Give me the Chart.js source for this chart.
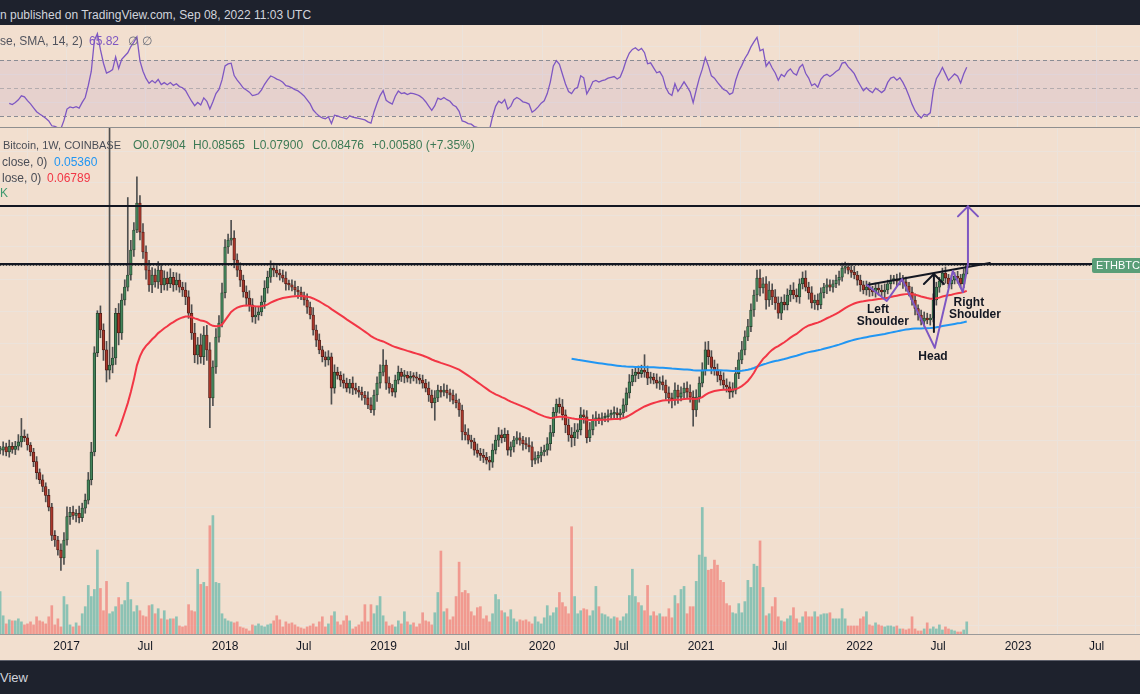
<!DOCTYPE html>
<html>
<head>
<meta charset="utf-8">
<script src="https://cdn.jsdelivr.net/npm/chart.js@4.4.1/dist/chart.umd.min.js"></script>
<style>
body{margin:0;width:1140px;height:694px;overflow:hidden;position:relative;background:#f2dfcf;font-family:"Liberation Sans",Arial,sans-serif;font-size:12px}
.t{position:absolute;white-space:nowrap;line-height:14px}
canvas{position:absolute;left:0}
</style>
</head>
<body>
<div style="position:absolute;left:0;top:0;width:1140px;height:25px;background:#1e222d"></div>
<div class="t" style="left:0;top:8px;color:#d1d4dc">n published on TradingView.com, Sep 08, 2022 11:03 UTC</div>
<canvas id="rsi" width="1140" height="103" style="top:25px"></canvas>
<canvas id="main" width="1140" height="532" style="top:128px"></canvas>
<div style="position:absolute;left:0;top:127px;width:1140px;height:1px;background:#8f8f8f"></div>
<div style="position:absolute;left:0;top:660px;width:1140px;height:34px;background:#1e222d;border-top:1px solid #5d606b;box-sizing:border-box"></div>
<div class="t" style="left:0;top:671px;color:#d1d4dc;font-size:13px">View</div>

<div class="t" style="left:0;top:34px;color:#50535e">se, SMA, 14, 2)</div>
<div class="t" style="left:89px;top:34px;color:#7e57c2">65.82</div>
<div class="t" style="left:128px;top:34px;color:#6a6d78">&#8709;</div>
<div class="t" style="left:142px;top:34px;color:#6a6d78">&#8709;</div>

<div class="t" style="left:3px;top:138px;color:#4a4d56;font-size:11px">Bitcoin, 1W, COINBASE</div>
<div class="t" style="left:133px;top:138px;color:#3d7a55">O0.07904</div>
<div class="t" style="left:193px;top:138px;color:#3d7a55">H0.08565</div>
<div class="t" style="left:253px;top:138px;color:#3d7a55">L0.07900</div>
<div class="t" style="left:312px;top:138px;color:#3d7a55">C0.08476</div>
<div class="t" style="left:372px;top:138px;color:#3d7a55">+0.00580 (+7.35%)</div>
<div class="t" style="left:2px;top:155px;color:#4a4d56">close, 0)</div>
<div class="t" style="left:54px;top:155px;color:#2196f3">0.05360</div>
<div class="t" style="left:2px;top:171px;color:#4a4d56">lose, 0)</div>
<div class="t" style="left:47px;top:171px;color:#f23645">0.06789</div>
<div class="t" style="left:0;top:186px;color:#3f9a70">K</div>

<script>
// weekly ETH/BTC, Coinbase, first week 2016-05-16
const firstWeek = '2016-05-16';
const closes = [
0.0255,0.0232,0.0255,0.0250,0.0262,0.0218,0.0196,0.0168,0.0185,0.0215,0.0195,
0.0195,0.0200,0.0192,0.0201,0.0196,0.0201,0.0208,0.0218,0.0215,0.0203,
0.0192,0.0178,0.0163,0.0154,0.0146,0.0136,0.0124,0.0099,0.00955,0.00882,
0.00828,0.00955,0.0115,0.0119,0.0116,0.0118,0.0114,0.0123,0.0131,0.0154,
0.0192,0.0422,0.0578,0.0506,0.0432,0.0368,0.0383,0.0405,0.0578,0.0494,
0.0642,0.0711,0.0783,0.0955,0.1119,0.1387,0.1101,0.0940,0.0814,0.0724,
0.0783,0.0741,0.0814,0.0724,0.0764,0.0730,0.0769,0.0724,0.0752,0.0711,
0.0695,0.0658,0.0578,0.0494,0.0415,0.0450,0.0409,0.0486,0.0432,0.0295,
0.0377,0.0478,0.0535,0.0680,0.0978,0.1033,0.1050,0.0882,0.0814,0.0752,
0.0684,0.0652,0.0618,0.0561,0.0570,0.0584,0.0632,0.0706,0.0769,0.0827,
0.0814,0.0795,0.0783,0.0764,0.0730,0.0724,0.0711,0.0695,0.0684,0.0664,
0.0642,0.0607,0.0570,0.0506,0.0467,0.0432,0.0409,0.0399,0.0409,0.0319,
0.0362,0.0353,0.0340,0.0332,0.0319,0.0332,0.0319,0.0314,0.0309,0.0302,
0.0295,0.0279,0.0268,0.0302,0.0332,0.0362,0.0383,0.0332,0.0319,0.0309,
0.0340,0.0362,0.0350,0.0353,0.0345,0.0350,0.0348,0.0345,0.0340,0.0332,
0.0319,0.0302,0.0284,0.0295,0.0314,0.0309,0.0314,0.0307,0.0302,0.0290,
0.0284,0.0268,0.0225,0.0220,0.0211,0.0208,0.0195,0.0190,0.0187,0.0184,
0.0180,0.0177,0.0195,0.0211,0.0220,0.0215,0.0221,0.0195,0.0200,0.0211,
0.0215,0.0211,0.0205,0.0203,0.0200,0.0180,0.0183,0.0187,0.0192,0.0195,
0.0205,0.0224,0.0263,0.0281,0.0275,0.0258,0.0238,0.0220,0.0215,0.0225,
0.0229,0.0258,0.0254,0.0215,0.0229,0.0248,0.0252,0.0248,0.0252,0.0254,
0.0258,0.0260,0.0262,0.0258,0.0262,0.0279,0.0307,0.0335,0.0353,0.0362,
0.0358,0.0368,0.0362,0.0345,0.0348,0.0340,0.0332,0.0335,0.0327,0.0307,
0.0295,0.0290,0.0314,0.0297,0.0307,0.0319,0.0309,0.0297,0.0268,0.0297,
0.0332,0.0368,0.0432,0.0409,0.0376,0.0368,0.0353,0.0340,0.0327,0.0322,
0.0309,0.0314,0.0358,0.0399,0.0432,0.0479,0.0520,0.0593,0.0668,0.0764,
0.0706,0.0730,0.0642,0.0695,0.0658,0.0627,0.0578,0.0632,0.0618,0.0668,
0.0695,0.0668,0.0658,0.0730,0.0764,0.0711,0.0680,0.0627,0.0642,0.0618,
0.0680,0.0711,0.0724,0.0711,0.0730,0.0752,0.0769,0.0827,0.0835,0.0814,
0.0800,0.0783,0.0752,0.0724,0.0695,0.0711,0.0695,0.0684,0.0706,0.0695,
0.0684,0.0695,0.0730,0.0752,0.0758,0.0746,0.0758,0.0741,0.0717,0.0684,
0.0642,0.0600,0.0570,0.0543,0.0556,0.0548,0.0556,0.0642,0.0711,0.0746,
0.0795,0.0764,0.0730,0.0752,0.0775,0.0764,0.0730,0.07904,0.08476
];
// upper / lower wick length, % of the body edge
const wickUp = [
4,5,3,6,8,5,4,6,5,7, 4,3,4,3,5,3,4,6,15,5, 3,2,3,4,3,4,3,5,3,4, 3,5,6,8,4,5,3,6,4,5,
6,8,5,2,6,5,7,1200,9,4, 8,5,6,85,8,6,23,6,7,5, 8,6,5,7,4,6,5,7,4,6, 5,4,6,5,7,8,6,9,7,8,
6,5,7,6,8,6,5,15,6,5, 6,4,5,6,5,7,4,5,6,5, 6,4,5,3,4,5,3,4,5,3, 4,3,5,4,6,4,5,3,4,5,
3,6,4,3,5,4,3,5,4,3, 4,3,5,6,4,5,6,13,4,5, 3,4,5,3,4,3,4,3,4,3, 4,3,5,4,6,4,3,5,4,3,
4,5,3,4,6,5,4,3,5,4, 5,4,3,5,4,6,4,5,3,4, 3,5,4,3,5,6,4,5,3,4, 4,5,6,4,4,5,6,4,5,6,
7,5,6,4,5,6,4,5,3,4, 3,4,3,5,4,3,5,4,6,5, 4,5,4,13,5,4,3,5,4,5, 4,5,4,6,4,5,4,5,6,5,
6,5,6,6.5,7,5,6,5,4,6, 5,4,6,5,6,7,5,6,5,4, 6.5,7,5,6,7,5,6,5,4,6, 5,4,6,5,4,5,6,4,5,4,
5,4,3,5,4,3,4,5,4,4, 3,4,5,3,4,3,5,4,3,4, 3,4,5,3,4,3,4,5,3,4, 3,4,5,3,4,5,4,3,5,4,
3,4,5,3,4,3,4,3,4,1.05
];
const wickDn = [
5,6,4,5,4,8,5,6,4,5, 5,3,4,3,4,3,4,3,4,3, 4,3,4,5,3,4,5,3,4,5, 4,9.5,5,4,6,3,5,4,3,4,
3,4,3,3,6,8,9,7,6,5, 9,5,4,3,4,5,2,6,5,7, 5,6,4,5,6,4,5,3,5,4, 4,5,6,4,5,6,7,5,6,8,
21,6,5,4,3,4,5,4,6,5, 5,4,6,5,4,5,4,3,5,4, 4,5,3,4,3,5,4,3,4,5, 3,4,5,3,4,5,3,4,5,4,
12,4,3,5,4,3,4,5,3,4, 4,5,3,2,4,5,4,3,5,4, 3,4,3,4,5,3,4,3,4,3, 4,3,5,4,13,3,4,3,4,5,
3,4,5,6,4,3,5,4,3,4, 4,3,6,4,3,5,4,3,4,5, 4,3,4,5,3,4,5,3,4,5, 3,4,5,3,4,5,4,6,5,7,
6,5,4,5,4,3,4,5,3,4, 3,4,3,4,3,4,3,5,4,3, 5,4,3,4,5,4,3,4,5,4, 5,4,6,4,5,3,4,5,4,12,
5,4,3,4,6,5,4,5,4,3, 4,5,4,3,4,3,4,3,4,5, 5,6,4,7,5,6,5,4,5,4, 4,5,3,4,5,4,3,5,4,5,
4,3,4,5,3,4,3,4,3,4, 3,4,3,4,5,3,4,5,3,4, 4,3,5,3,4,3,4,3,5,4, 3,4,5,4,3,4,3,4,3,4,
4,3,4,3,4,3,4,3,3,0.05
];
// weekly volume, K ETH
const volumes = [
80,60,48,72,120,140,80,60,48,60,40,
168,72,40,56,52,52,60,48,36,40, 48,36,68,52,48,40,68,112,36,60,
28,148,116,36,28,44,32,80,108,192, 148,176,332,180,92,208,80,88,108,144,
116,132,204,136,88,112,92,72,68,112, 116,80,100,60,92,56,60,60,68,32,
28,32,116,92,88,256,196,204,188,428, 468,204,200,80,60,52,48,44,48,28,
24,20,12,36,32,40,32,28,36,40, 52,72,56,28,48,40,44,36,28,24,
20,28,32,40,28,48,68,28,40,72, 88,48,36,52,72,52,20,28,36,48,
116,48,116,80,112,148,72,48,32,36, 28,52,40,88,48,36,44,28,40,84,
52,48,36,84,164,328,88,100,56,68, 148,284,164,172,160,88,72,104,108,60,
72,48,80,156,136,92,84,68,96,60, 48,56,52,56,48,40,68,48,40,64,
112,72,84,104,164,124,108,80,424,148, 80,92,100,96,72,92,188,108,80,76,
68,60,68,64,52,68,80,152,256,148, 124,112,92,192,72,88,72,80,68,68,
100,64,152,120,176,188,80,108,108,208, 312,500,304,252,256,292,272,212,204,120,
112,84,80,120,84,128,212,184,276,268, 368,184,72,80,108,144,68,52,48,60,
72,104,60,44,68,88,68,68,88,68, 76,80,80,84,60,60,60,100,60,32,
32,32,32,60,68,88,36,32,44,36, 32,28,32,32,28,32,20,20,16,20,
68,20,12,12,20,44,20,28,20,36, 16,28,20,16,12,8,8,16,48
];
const tickDates = ['2017-01-01','2017-07-01','2018-01-01','2018-07-01','2019-01-01','2019-07-01','2020-01-01',
  '2020-07-01','2021-01-01','2021-07-01','2022-01-01','2022-07-01','2023-01-01','2023-07-01'];
const tickLabels = ['2017','Jul','2018','Jul','2019','Jul','2020','Jul','2021','Jul','2022','Jul','2023','Jul'];
const gridPrices = [0.00486,0.00612,0.0077,0.0097,0.0124,0.0163,0.0211,0.0275,0.0354,0.0456,0.0588,0.0758,0.0978,0.126,0.1626,0.2096];
const rsiGrid = [40,60,80];
const levels = [0.1354, 0.0854];
const lastPrice = 0.08476;
// drawings, [week index, price]
const neckline = [[296.2,0.0723],[336.6,0.0861]];
const headArrow = [[318.2,0.0498],[318.2,0.0789]];
const hsPath = [[296.2,0.0723],[302.7,0.0637],[307.7,0.0758],[318.5,0.0439],[324.4,0.0808],[327.7,0.0684],[329.4,0.0854],[329.4,0.1350]];
const hsLabels = [['Left',299.8,0.0593],['Shoulder',301.4,0.0539],['Head',317.9,0.0409],['Right',329.7,0.0627],['Shoulder',331.7,0.0570]];

const FONT = '"Liberation Sans", Arial, sans-serif';
const GRID = '#ece3db';
const X_MIN = 10.96, X_MAX = 386;
const Y_MIN = 0.004526, Y_MAX = 0.2516;

const DAY = 86400000;
const w0 = Date.parse(firstWeek);
const tickIdx = tickDates.map(d => (Date.parse(d) - w0) / (7 * DAY));

const opens = closes.map((c, i) => i ? closes[i - 1] : c);
const highs = closes.map((c, i) => Math.max(c, opens[i]) * (1 + wickUp[i] / 100));
const lows = closes.map((c, i) => Math.min(c, opens[i]) * (1 - wickDn[i] / 100));

function ema(src, len) {
  const out = src.map(() => null);
  const a = 2 / (len + 1);
  let s = 0;
  for (let i = 0; i < len; i++) s += src[i];
  out[len - 1] = s / len;
  for (let i = len; i < src.length; i++) out[i] = a * src[i] + (1 - a) * out[i - 1];
  return out;
}
function rsi(src, len) {
  const out = src.map(() => null);
  let ag = 0, al = 0;
  for (let i = 1; i <= len; i++) { const d = src[i] - src[i - 1]; ag += Math.max(d, 0); al += Math.max(-d, 0); }
  ag /= len; al /= len;
  out[len] = 100 - 100 / (1 + ag / al);
  for (let i = len + 1; i < src.length; i++) {
    const d = src[i] - src[i - 1];
    ag = (ag * (len - 1) + Math.max(d, 0)) / len;
    al = (al * (len - 1) + Math.max(-d, 0)) / len;
    out[i] = al === 0 ? 100 : 100 - 100 / (1 + ag / al);
  }
  return out;
}
const pts = arr => arr.map((v, i) => ({x: i, y: v})).filter(p => p.y !== null);

const ema50 = ema(closes, 50);
const ema200 = ema(closes, 200);
const rsi14 = rsi(closes, 14);

const up = closes.map((c, i) => c >= opens[i]);
const bodies = closes.map((c, i) => ({x: i, y: [Math.min(c, opens[i]), Math.max(c, opens[i])]}));
const wicks = closes.map((c, i) => ({x: i, y: [lows[i], highs[i]]}));
const vols = volumes.map((v, i) => ({x: i, y: v}));

function xTicks(axis) { axis.ticks = tickIdx.map(v => ({value: v})); }

const drawings = {
  id: 'drawings',
  afterDatasetsDraw(chart) {
    const {ctx, chartArea: ca, scales: {x, y}} = chart;
    const P = p => [x.getPixelForValue(p[0]), y.getPixelForValue(p[1])];
    const seg = (pa, pb) => { ctx.beginPath(); ctx.moveTo(pa[0], pa[1]); ctx.lineTo(pb[0], pb[1]); ctx.stroke(); };
    const head = (tip) => {
      seg([tip[0] - 10, tip[1] + 10], tip);
      seg([tip[0] + 10, tip[1] + 10], tip);
    };
    ctx.save();
    ctx.beginPath(); ctx.rect(ca.left, ca.top, ca.width, ca.height); ctx.clip();
    ctx.lineCap = 'round';

    // last price line
    const yl = Math.round(y.getPixelForValue(lastPrice)) + 0.5;
    ctx.strokeStyle = '#4d4d4d'; ctx.lineWidth = 1; ctx.setLineDash([1, 2]);
    seg([ca.left, yl], [ca.right - 48, yl]);
    ctx.setLineDash([]);

    // horizontal levels
    ctx.strokeStyle = '#131722'; ctx.lineWidth = 2;
    levels.forEach(p => { const yy = y.getPixelForValue(p); seg([ca.left, yy], [ca.right, yy]); });

    // neckline + measured move
    seg(P(neckline[0]), P(neckline[1]));
    const a0 = P(headArrow[0]), a1 = P(headArrow[1]);
    seg(a0, a1); head(a1);

    // head and shoulders path
    ctx.strokeStyle = '#7e57c2'; ctx.lineWidth = 2; ctx.lineJoin = 'round';
    ctx.beginPath();
    hsPath.forEach((p, i) => { const q = P(p); i ? ctx.lineTo(q[0], q[1]) : ctx.moveTo(q[0], q[1]); });
    ctx.stroke();
    head(P(hsPath[hsPath.length - 1]));

    // labels
    ctx.fillStyle = '#131722';
    ctx.font = 'bold 12px ' + FONT;
    ctx.textAlign = 'center'; ctx.textBaseline = 'middle';
    hsLabels.forEach(l => { const q = P([l[1], l[2]]); ctx.fillText(l[0], q[0], q[1]); });

    // symbol tag
    ctx.fillStyle = '#5a9e78';
    ctx.beginPath();
    ctx.roundRect(ca.right - 48, yl - 7.5, 50, 15, 2);
    ctx.fill();
    ctx.fillStyle = '#ffffff'; ctx.font = '11px ' + FONT; ctx.textAlign = 'left';
    ctx.fillText('ETHBTC', ca.right - 44, yl + 0.5);
    ctx.restore();
  }
};

new Chart(document.getElementById('main'), {
  type: 'bar',
  data: {
    datasets: [
      {type: 'line', data: pts(ema50), borderColor: '#f23645', borderWidth: 2, pointRadius: 0, yAxisID: 'y', order: 0},
      {type: 'line', data: pts(ema200), borderColor: '#2196f3', borderWidth: 2, pointRadius: 0, yAxisID: 'y', order: 0},
      {type: 'bar', data: bodies, yAxisID: 'y', order: 1, grouped: false, barThickness: 2.7, minBarLength: 1.5,
        backgroundColor: up.map(u => u ? '#43845a' : '#a9372b'),
        borderColor: up.map(u => u ? '#24402c' : '#4e1a14'), borderWidth: 0.8, borderSkipped: false},
      {type: 'bar', data: wicks, yAxisID: 'y', order: 2, grouped: false, barThickness: 1, backgroundColor: '#4f4f4f'},
      {type: 'bar', data: vols, yAxisID: 'yv', order: 3, grouped: false, barThickness: 2,
        backgroundColor: up.map(u => u ? 'rgba(38,166,154,0.5)' : 'rgba(239,83,80,0.5)')}
    ]
  },
  options: {
    responsive: false, animation: false, devicePixelRatio: 1, events: [],
    layout: {padding: 0},
    plugins: {legend: {display: false}, tooltip: {enabled: false}},
    scales: {
      x: {type: 'linear', min: X_MIN, max: X_MAX, offset: false,
        afterBuildTicks: xTicks, afterFit(a) { a.height = 26; },
        grid: {color: GRID, drawTicks: false}, border: {color: '#9a9a9a'},
        ticks: {color: '#131722', font: {size: 12, family: FONT}, padding: 5, maxRotation: 0, autoSkip: false,
          callback: (v, i) => tickLabels[i]}},
      y: {type: 'logarithmic', position: 'right', min: Y_MIN, max: Y_MAX,
        afterBuildTicks(a) { a.ticks = gridPrices.map(v => ({value: v})); }, afterFit(a) { a.width = 0; },
        ticks: {display: false}, grid: {color: GRID, drawTicks: false}, border: {display: false}},
      yv: {type: 'linear', display: false, min: 0, max: 2000}
    }
  },
  plugins: [drawings]
});

const rsiBand = {
  id: 'rsiBand',
  beforeDatasetsDraw(chart) {
    const {ctx, chartArea: ca, scales: {y}} = chart;
    const y70 = y.getPixelForValue(70), y50 = y.getPixelForValue(50), y30 = y.getPixelForValue(30);
    ctx.save();
    ctx.fillStyle = 'rgba(126,87,194,0.1)';
    ctx.fillRect(ca.left, y70, ca.width, y30 - y70);
    ctx.lineWidth = 1; ctx.setLineDash([4, 3]);
    ctx.strokeStyle = '#8a8c94';
    [y70, y30].forEach(v => { ctx.beginPath(); ctx.moveTo(ca.left, Math.round(v) + 0.5); ctx.lineTo(ca.right, Math.round(v) + 0.5); ctx.stroke(); });
    ctx.strokeStyle = 'rgba(138,140,148,0.55)';
    ctx.beginPath(); ctx.moveTo(ca.left, Math.round(y50) + 0.5); ctx.lineTo(ca.right, Math.round(y50) + 0.5); ctx.stroke();
    ctx.restore();
  }
};

new Chart(document.getElementById('rsi'), {
  type: 'line',
  data: {datasets: [{data: pts(rsi14), borderColor: '#7e57c2', borderWidth: 1.3, pointRadius: 0}]},
  options: {
    responsive: false, animation: false, devicePixelRatio: 1, events: [],
    layout: {padding: 0},
    plugins: {legend: {display: false}, tooltip: {enabled: false}},
    scales: {
      x: {type: 'linear', min: X_MIN, max: X_MAX, offset: false,
        afterBuildTicks: xTicks, afterFit(a) { a.height = 0; },
        ticks: {display: false}, grid: {color: GRID, drawTicks: false}, border: {display: false}},
      y: {position: 'right', min: 21.43, max: 95,
        afterBuildTicks(a) { a.ticks = rsiGrid.map(v => ({value: v})); }, afterFit(a) { a.width = 0; },
        ticks: {display: false}, grid: {color: GRID, drawTicks: false}, border: {display: false}}
    }
  },
  plugins: [rsiBand]
});
</script>
</body>
</html>
